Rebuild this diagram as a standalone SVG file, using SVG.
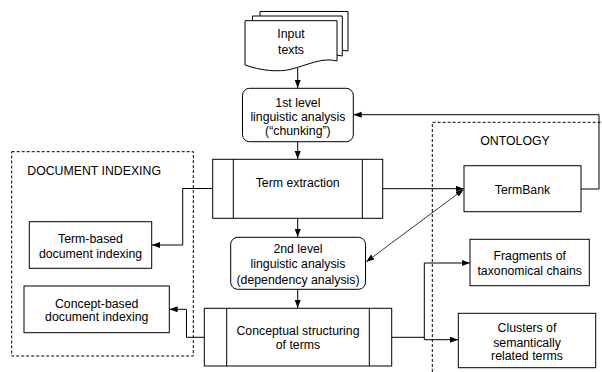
<svg xmlns="http://www.w3.org/2000/svg" width="602" height="372" viewBox="0 0 602 372">
<defs>
<style>
.b{fill:#fff;stroke:#000;stroke-width:1}
.t{font-family:"Liberation Sans",Arial,sans-serif;font-size:12.3px;fill:#000;text-anchor:middle}
.c{fill:none;stroke:#000;stroke-width:1}
.d{fill:none;stroke:#000;stroke-width:1;stroke-dasharray:3,2}
</style>
<marker id="ah" markerUnits="userSpaceOnUse" markerWidth="9" markerHeight="7" refX="8" refY="3" orient="auto-start-reverse" viewBox="0 0 9 7">
<path d="M0,0 L8,3 L0,6 z" fill="#000"/>
</marker>
</defs>
<rect width="602" height="372" fill="#fff"/>

<g id="document-indexing">
<rect class="d" x="11.7" y="151.7" width="181.6" height="204.3"/>
<text class="t" x="27.3" y="175" style="text-anchor:start">DOCUMENT INDEXING</text>
</g>
<g id="ontology">
<path class="d" d="M432.3,372 V122.3 H602"/>
<text class="t" x="515" y="145">ONTOLOGY</text>
</g>

<g id="connectors">
<path class="c" d="M297.7,68 V88" marker-end="url(#ah)"/>
<path class="c" d="M297.7,141.7 V159" marker-end="url(#ah)"/>
<path class="c" d="M297.7,218.3 V237" marker-end="url(#ah)"/>
<path class="c" d="M297.7,289.3 V308" marker-end="url(#ah)"/>
<path class="c" d="M212.7,188.5 H182.7 V245 H152" marker-end="url(#ah)"/>
<path class="c" d="M204.3,337.3 H186.5 V309.3 H169.6" marker-end="url(#ah)"/>
<path class="c" d="M382.7,188.7 H463.8" marker-end="url(#ah)"/>
<path class="c" d="M581,189 H599 V114.7 H353.6" marker-end="url(#ah)"/>
<path class="c" d="M463.5,189.5 L366.3,261.8" marker-start="url(#ah)" marker-end="url(#ah)" style="stroke-width:0.8"/>
<path class="c" d="M391.7,337.3 H424.3 V263 H469.7" marker-end="url(#ah)"/>
<path class="c" d="M424.3,337.3 V339.7 H458" marker-end="url(#ah)"/>
</g>

<g id="input-texts">
<path class="b" d="M260,11.5 H348 V51 C333,48 318,55 300,60 C290,63 275,63 260,56 Z"/>
<path class="b" d="M252.5,16 H342.3 V56 C327,52 312,60 294,65 C283,68 268,67 252.5,61 Z"/>
<path class="b" d="M245,20.7 H337 V61 C322,57 308,65 290,69.5 C278,72 262,71 245,65 Z"/>
<text class="t" x="291" y="37.6">Input</text>
<text class="t" x="291" y="53.6">texts</text>
</g>

<g id="first-level">
<rect class="b" x="242.5" y="88.3" width="110.8" height="53.4" rx="7"/>
<text class="t" x="297.9" y="106.8">1st level</text>
<text class="t" x="297.9" y="120.8">linguistic analysis</text>
<text class="t" x="297.9" y="134.8">(“chunking”)</text>
</g>

<g id="term-extraction">
<rect class="b" x="212.7" y="159.3" width="170" height="59"/>
<path class="c" d="M233.3,159.3 V218.3 M362.3,159.3 V218.3"/>
<text class="t" x="297.7" y="186.6">Term extraction</text>
</g>

<g id="second-level">
<rect class="b" x="230.7" y="237.3" width="134.8" height="52" rx="7"/>
<text class="t" x="298" y="253">2nd level</text>
<text class="t" x="298" y="268.3">linguistic analysis</text>
<text class="t" x="298" y="283.6">(dependency analysis)</text>
</g>

<g id="conceptual-structuring">
<rect class="b" x="204.3" y="308.3" width="187.4" height="57.7"/>
<path class="c" d="M226.7,308.3 V366 M369.3,308.3 V366"/>
<text class="t" x="298" y="335.3">Conceptual structuring</text>
<text class="t" x="298" y="349.3">of terms</text>
</g>

<g id="term-based-indexing">
<rect class="b" x="29.3" y="221.7" width="122.4" height="46.6"/>
<text class="t" x="90.5" y="242.6">Term-based</text>
<text class="t" x="90.5" y="257.6">document indexing</text>
</g>

<g id="concept-based-indexing">
<rect class="b" x="24" y="286" width="145.3" height="46.7"/>
<text class="t" x="96.7" y="307.6">Concept-based</text>
<text class="t" x="96.7" y="321">document indexing</text>
</g>

<g id="termbank">
<rect class="b" x="464" y="165.7" width="117" height="46"/>
<text class="t" x="522.5" y="193.6">TermBank</text>
</g>

<g id="fragments">
<rect class="b" x="470" y="239.3" width="119.3" height="46.4"/>
<text class="t" x="529.7" y="260.3">Fragments of</text>
<text class="t" x="529.7" y="275">taxonomical chains</text>
</g>

<g id="clusters">
<rect class="b" x="458.3" y="313.3" width="137.4" height="54.4"/>
<text class="t" x="527" y="331.6">Clusters of</text>
<text class="t" x="527" y="346.6">semantically</text>
<text class="t" x="527" y="360.3">related terms</text>
</g>
</svg>
